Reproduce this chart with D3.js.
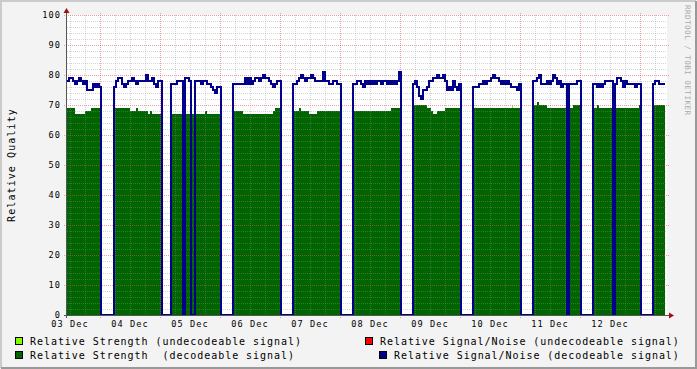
<!DOCTYPE html>
<html>
<head>
<meta charset="utf-8">
<script src="https://cdn.jsdelivr.net/npm/d3@7"></script>
<style>
  body{margin:0;background:#f3f3f3;}
  svg{display:block;}
  text{font-family:"DejaVu Sans Mono",monospace;white-space:pre;}
</style>
</head>
<body>
<svg id="chart" width="697" height="369"></svg>
<script>
// --- data, one sample every 48 min ---
const stepMinutes=48;
const blockStarts=["2023-12-03 10:48","2023-12-04 05:36","2023-12-05 04:24","2023-12-06 05:12",
  "2023-12-07 05:12","2023-12-08 05:12","2023-12-09 05:12","2023-12-10 05:12",
  "2023-12-11 05:12","2023-12-12 05:12","2023-12-13 05:12"];

// Relative Signal/Noise (decodeable signal)
const snDecodeable=[
  [78,79,79,78,77,78,79,78,77,78,75,75,75,77,76,77,76],
  [76,78,79,79,77,76,77,78,78,79,78,77,78,78,78,78,80,78,78,79,77,76,78,78],
  [77,77,77,78,78,78,0,79,79,78,0,0,78,78,78,77,78,78,77,77,76,75,74,76,76],
  [77,77,77,77,77,77,79,77,79,77,78,79,79,78,79,80,79,79,78,77,76,77,78,78],
  [77,77,78,79,80,79,78,79,79,80,79,78,78,78,78,81,78,78,77,77,78,78,77,77],
  [77,77,78,78,77,76,78,77,78,77,78,77,78,78,77,78,78,77,78,77,78,77,78,81],
  [77,78,76,73,72,75,75,76,78,78,79,79,80,79,79,80,78,75,76,75,78,76,75,77],
  [76,76,76,77,77,78,77,78,78,79,80,79,79,78,77,78,77,78,77,76,76,76,75,77],
  [78,78,79,80,77,77,77,78,77,78,80,79,77,78,76,77,77,0,77,77,77,77,78,78],
  [77,77,76,77,76,77,78,78,78,78,0,77,79,79,78,76,78,77,77,77,77,76,77,77],
  [77,78,78,77,77,77]
];

// Relative Strength (decodeable signal)
const strengthDecodeable=[
  [69,69,69,69,67,67,67,67,67,68,68,68,69,69,69,69,69],
  [69,69,69,69,69,69,69,69,68,68,68,69,68,68,68,68,68,67,68,67,67,67,67,67],
  [67,67,67,67,67,67,67,67,67,67,67,67,67,67,67,67,67,68,67,67,67,67,67,67,67],
  [68,68,68,68,68,67,67,67,67,67,67,67,67,67,67,67,67,67,67,67,68,69,69,69],
  [68,68,68,69,68,68,68,68,67,67,67,67,68,68,68,68,68,68,68,68,68,68,68,68],
  [68,68,68,68,68,68,68,68,68,68,68,68,68,68,68,68,68,68,68,69,69,69,69,69],
  [70,70,70,70,70,70,70,69,69,68,67,67,68,68,68,68,69,69,69,69,69,69,69,69],
  [69,69,69,69,69,69,69,69,69,69,69,69,69,69,69,69,69,69,69,69,69,69,69,69],
  [70,70,71,70,70,70,70,69,69,69,69,69,69,69,69,69,69,69,69,69,70,70,70,70],
  [69,69,70,69,69,69,69,69,69,69,69,69,69,69,69,69,69,69,69,69,69,69,69,70],
  [70,70,70,70,70,70]
];

// Relative Strength (undecodeable signal): single short samples
const strengthUndecTimes=["2023-12-07 08:00","2023-12-10 20:48"];
const strengthUndecValues=[69,70];
const undecMinutes=24;

const yTicks=[0,10,20,30,40,50,60,70,80,90,100];
const legendItems=[
  {label:"Relative Strength (undecodeable signal)",color:"#80ff00",x:15,row:0},
  {label:"Relative Signal/Noise (undecodeable signal)",color:"#ff0000",x:365,row:0},
  {label:"Relative Strength  (decodeable signal)",color:"#006400",x:15,row:1},
  {label:"Relative Signal/Noise (decodeable signal)",color:"#00008b",x:379,row:1}
];

// --- layout ---
const W=697,H=369;
const plot={left:67,right:667,top:15,bottom:315};
const parseTime=d3.timeParse("%Y-%m-%d %H:%M");
const svg=d3.select("#chart");

const x=d3.scaleTime()
  .domain([parseTime("2023-12-03 10:48"),parseTime("2023-12-13 10:48")])
  .range([plot.left,plot.right]);
const y=d3.scaleLinear().domain([0,100]).range([plot.bottom,plot.top]);

// series with zeros in the gaps between blocks
function buildSeries(blocks){
  const pts=[];
  blocks.forEach((vals,i)=>{
    const t0=parseTime(blockStarts[i]);
    vals.forEach((v,j)=>pts.push({t:d3.timeMinute.offset(t0,j*stepMinutes),v:v}));
    const tEnd=d3.timeMinute.offset(t0,vals.length*stepMinutes);
    pts.push({t:tEnd,v:i<blocks.length-1?0:vals[vals.length-1]});
  });
  return pts;
}
const snSeries=buildSeries(snDecodeable);
const strSeries=buildSeries(strengthDecodeable);

// background + frame
svg.append("rect").attr("width",W).attr("height",H).attr("fill","#f3f3f3");
svg.append("path").attr("d",`M0,1H${W-1}M1,0V${H-1}`).attr("stroke","#cbcbcb").attr("stroke-width",2);
svg.append("path").attr("d",`M1,${H-1}H${W}M${W-1},1V${H}`).attr("stroke","#999").attr("stroke-width",2);

// canvas
svg.append("rect").attr("x",plot.left).attr("y",plot.top)
  .attr("width",plot.right-plot.left).attr("height",plot.bottom-plot.top).attr("fill","#fff");

// undecodeable strength (behind)
const areaGen=d3.area().x(d=>x(d.t)).y0(y(0)).y1(d=>y(d.v)).curve(d3.curveStepAfter);
strengthUndecTimes.forEach((s,i)=>{
  const t=parseTime(s);
  svg.append("path")
    .attr("d",areaGen([{t:t,v:strengthUndecValues[i]},{t:d3.timeMinute.offset(t,undecMinutes),v:strengthUndecValues[i]}]))
    .attr("fill","#80ff00");
});

// decodeable strength
svg.append("path").attr("d",areaGen(strSeries)).attr("fill","#006400");

// grid
const grid=svg.append("g").attr("fill","none").attr("stroke-width",1).attr("stroke-dasharray","1,1");
const minorColor="rgba(143,143,143,0.38)", majorColor="rgba(224,80,80,0.55)";
const dayTicks=d3.timeDay.range(x.domain()[0],x.domain()[1]);
const sixHour=d3.timeHour.every(6).range(x.domain()[0],x.domain()[1]).filter(t=>t.getHours()!==0);
sixHour.forEach(t=>{
  const px=Math.round(x(t))+0.5;
  grid.append("line").attr("x1",px).attr("x2",px).attr("y1",plot.top).attr("y2",plot.bottom)
    .attr("stroke",minorColor);
});
d3.range(2,100,2).filter(v=>v%10!==0).forEach(v=>{
  const py=Math.round(y(v))+0.5;
  grid.append("line").attr("x1",plot.left).attr("x2",plot.right).attr("y1",py).attr("y2",py)
    .attr("stroke",minorColor);
});
dayTicks.forEach(t=>{
  const px=Math.round(x(t))+0.5;
  grid.append("line").attr("x1",px).attr("x2",px).attr("y1",plot.top-2).attr("y2",plot.bottom+3)
    .attr("stroke",majorColor);
});
yTicks.filter(v=>v>0).forEach(v=>{
  const py=Math.round(y(v))+0.5;
  grid.append("line").attr("x1",plot.left-3).attr("x2",plot.right+2).attr("y1",py).attr("y2",py)
    .attr("stroke",majorColor);
});

// decodeable S/N line
const lineGen=d3.line().x(d=>x(d.t)).y(d=>y(d.v)).curve(d3.curveStepAfter);
svg.append("path").attr("d",lineGen(snSeries)).attr("fill","none")
  .attr("stroke","#00008b").attr("stroke-width",2);

// axes + arrows
svg.append("path").attr("d",`M${plot.left-3},${plot.bottom+0.5}H${plot.right+4}`).attr("stroke","#555");
svg.append("path").attr("d",`M${plot.left-0.5},${plot.bottom+3}V${plot.top-4}`).attr("stroke","#555");
svg.append("path").attr("d",`M${plot.right+2},${plot.bottom-2.5}L${plot.right+7},${plot.bottom+0.5}L${plot.right+2},${plot.bottom+3.5}Z`)
  .attr("fill","#a01010");
svg.append("path").attr("d",`M${plot.left-3.5},${plot.top-2}L${plot.left-0.5},${plot.top-7}L${plot.left+2.5},${plot.top-2}Z`)
  .attr("fill","#a01010");

// tick labels
const axisFontSize="8.6px", axisSpacing="1.1px";
yTicks.forEach(v=>{
  svg.append("text").attr("x",plot.left-6).attr("y",y(v)+3.3).attr("text-anchor","end")
    .attr("font-size",axisFontSize).attr("letter-spacing",axisSpacing)
    .attr("fill","#000").text(v);
});
const fmt=d3.timeFormat("%d %b");
dayTicks.map(t=>d3.timeHour.offset(t,-12)).concat([d3.timeHour.offset(dayTicks[dayTicks.length-1],12)])
  .filter(t=>x(t)>=plot.left&&x(t)<=plot.right)
  .forEach(t=>{
    svg.append("text").attr("x",x(t)).attr("y",327).attr("text-anchor","middle")
      .attr("font-size",axisFontSize).attr("letter-spacing",axisSpacing)
      .attr("fill","#000").text(fmt(t));
  });

// y title
svg.append("text").attr("transform",`translate(15,${(plot.top+plot.bottom)/2}) rotate(-90)`)
  .attr("text-anchor","middle").attr("font-size","10px").attr("letter-spacing","1.1px")
  .attr("fill","#000").text("Relative Quality");

// watermark
svg.append("text").attr("transform","translate(685,5) rotate(90)")
  .attr("font-size","7.6px").attr("letter-spacing","0.45px").attr("fill","#aaa")
  .text("RRDTOOL / TOBI OETIKER");

// legend
legendItems.forEach(d=>{
  const by=337.5+d.row*14;
  svg.append("rect").attr("x",d.x+0.5).attr("y",by).attr("width",7).attr("height",7)
    .attr("fill",d.color).attr("stroke","#000");
  svg.append("text").attr("x",d.x+15).attr("y",by+7).attr("font-size","10px")
    .attr("letter-spacing","0.95px").attr("fill","#000").text(d.label);
});
</script>
</body>
</html>
